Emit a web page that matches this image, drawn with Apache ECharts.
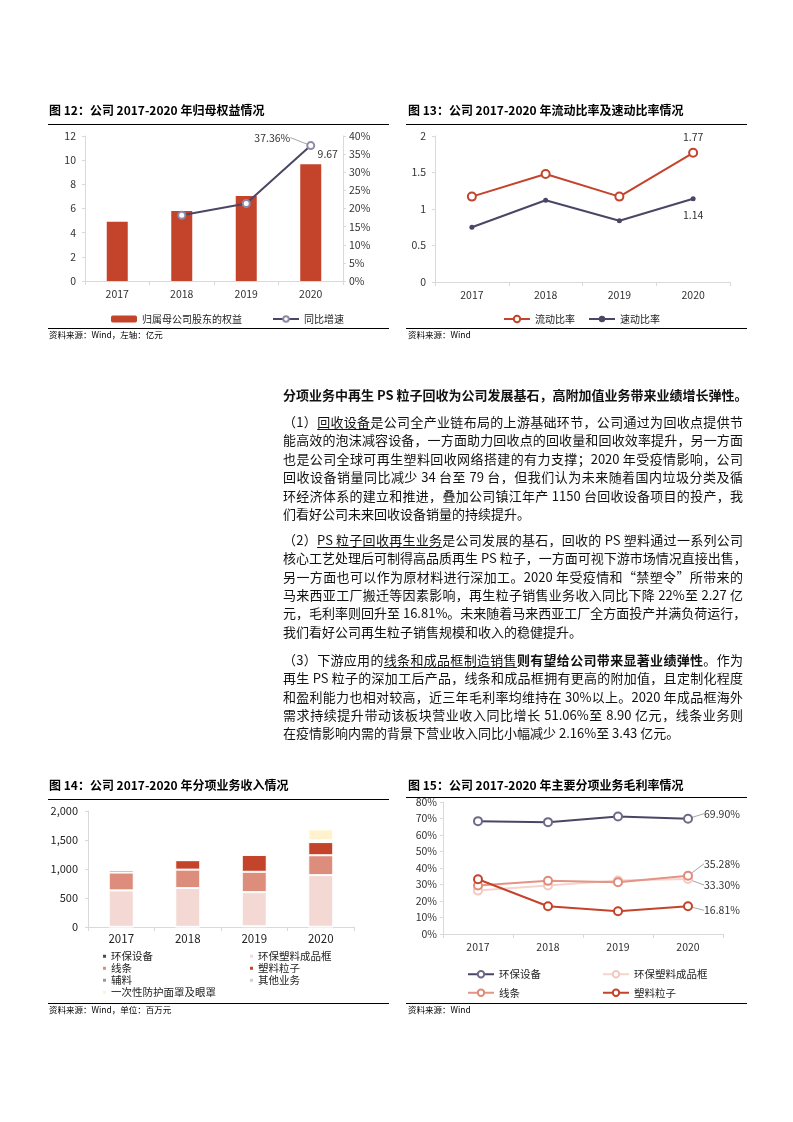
<!DOCTYPE html>
<html><head><meta charset="utf-8">
<script src="https://cdn.jsdelivr.net/npm/echarts@6/dist/echarts.min.js"></script>
<style>
html,body{margin:0;padding:0;background:#fff;}
#main{position:absolute;left:0;top:0;width:793px;height:1122px;}
.ln{position:absolute;left:283px;width:460px;height:18px;line-height:18px;font-size:13px;font-family:"Noto Sans CJK SC",sans-serif;color:#111;white-space:nowrap;text-align:justify;text-align-last:justify;}
.ln.last{text-align:left;text-align-last:left;}
.ln.h{font-weight:bold;}
u{text-decoration:underline;text-underline-offset:2px;text-decoration-thickness:1px;}
</style></head>
<body>
<div id="main"></div>
<div id="txt"></div>
<script>
// ---------- data ----------
const years = ['2017', '2018', '2019', '2020'];

// 图12 归母权益 (亿元) & 同比增速 (%)
const equity = [4.91, 5.80, 7.04, 9.67];
const equityGrowth = [null, 18.13, 21.38, 37.36];

// 图13 流动比率 / 速动比率
const currentRatio = [1.17, 1.48, 1.17, 1.77];
const quickRatio = [0.75, 1.12, 0.84, 1.14];

// 图14 分项业务收入 (百万元)
const revNames = ['环保设备', '环保塑料成品框', '线条', '塑料粒子', '辅料', '其他业务', '一次性防护面罩及眼罩'];
const revEquip = [3, 3, 12, 4];
const revFrame = [628, 668, 589, 890];
const revLine = [308, 318, 351, 343];
const revPellet = [38, 163, 291, 227];
const revAux = [5, 2, 3, 10];
const revOther = [10, 5, 5, 20];
const revMask = [null, null, null, 190];

// 图15 毛利率 (%)
const marginNames = ['环保设备', '环保塑料成品框', '线条', '塑料粒子'];
const marginEquip = [68.4, 67.8, 71.2, 69.90];
const marginFrame = [26.3, 29.4, 32.4, 33.30];
const marginLine = [29.4, 32.2, 31.4, 35.28];
const marginPellet = [33.2, 16.8, 13.8, 16.81];

// ---------- text ----------
const heading = '分项业务中再生 PS 粒子回收为公司发展基石，高附加值业务带来业绩增长弹性。';
const para1 = [
  '（1）<u>回收设备</u>是公司全产业链布局的上游基础环节，公司通过为回收点提供节',
  '能高效的泡沫减容设备，一方面助力回收点的回收量和回收效率提升，另一方面',
  '也是公司全球可再生塑料回收网络搭建的有力支撑；2020 年受疫情影响，公司',
  '回收设备销量同比减少 34 台至 79 台，但我们认为未来随着国内垃圾分类及循',
  '环经济体系的建立和推进，叠加公司镇江年产 1150 台回收设备项目的投产，我',
  '们看好公司未来回收设备销量的持续提升。'
];
const para2 = [
  '（2）<u>PS 粒子回收再生业务</u>是公司发展的基石，回收的 PS 塑料通过一系列公司',
  '核心工艺处理后可制得高品质再生 PS 粒子，一方面可视下游市场情况直接出售，',
  '另一方面也可以作为原材料进行深加工。2020 年受疫情和“禁塑令”所带来的',
  '马来西亚工厂搬迁等因素影响，再生粒子销售业务收入同比下降 22%至 2.27 亿',
  '元，毛利率则回升至 16.81%。未来随着马来西亚工厂全方面投产并满负荷运行，',
  '我们看好公司再生粒子销售规模和收入的稳健提升。'
];
const para3 = [
  '（3）下游应用的<u>线条和成品框制造销售</u><b>则有望给公司带来显著业绩弹性</b>。作为',
  '再生 PS 粒子的深加工后产品，线条和成品框拥有更高的附加值，且定制化程度',
  '和盈利能力也相对较高，近三年毛利率均维持在 30%以上。2020 年成品框海外',
  '需求持续提升带动该板块营业收入同比增长 51.06%至 8.90 亿元，线条业务则',
  '在疫情影响内需的背景下营业收入同比小幅减少 2.16%至 3.43 亿元。'
];

(function renderText() {
  const box = document.getElementById('txt');
  function add(html, cy, cls) {
    const d = document.createElement('div');
    d.className = 'ln ' + (cls || '');
    d.style.top = (cy - 9) + 'px';
    d.innerHTML = html;
    box.appendChild(d);
  }
  add(heading, 395, 'h');
  const p1y = [421.7, 440, 458.8, 477.3, 495.7, 514.3];
  const p2y = [540, 558.3, 576.7, 595, 613.3, 631.7];
  const p3y = [660, 678.3, 696.7, 715, 733.3];
  para1.forEach((t, i) => add(t, p1y[i], i === para1.length - 1 ? 'last' : ''));
  para2.forEach((t, i) => add(t, p2y[i], i === para2.length - 1 ? 'last' : ''));
  para3.forEach((t, i) => add(t, p3y[i], i === para3.length - 1 ? 'last' : ''));
})();

// ---------- chart ----------
const FONT = '"Noto Sans CJK SC", "Noto Sans", sans-serif';
const RED = '#c4432b', PURPLE = '#4b4566', SALMON = '#dd8d7b', PINK = '#f3d8d3';
const axisLineStyle = { lineStyle: { color: '#d9d9d9', width: 1 } };
const labelStyle = { color: '#333', fontSize: 10.5, fontFamily: FONT };

function lastLabel(arr, label) {
  return arr.map((v, i) => i === arr.length - 1 ? { value: v, label: label } : v);
}

const chart = echarts.init(document.getElementById('main'), null, { renderer: 'canvas' });

function titleText(x, y, text) {
  return { type: 'text', x: x, y: y, style: { text: text, font: 'bold 12px ' + FONT, fill: '#000', verticalAlign: 'middle' } };
}
function srcText(x, y, text) {
  return { type: 'text', x: x, y: y, style: { text: text, font: '8.5px ' + FONT, fill: '#000', verticalAlign: 'middle' } };
}
function hline(x1, x2, y) {
  return { type: 'line', shape: { x1: x1, y1: y, x2: x2, y2: y }, style: { stroke: '#000', lineWidth: 1 } };
}

const catAxis = (gi) => ({
  type: 'category', gridIndex: gi, data: years,
  axisLine: axisLineStyle, axisTick: { show: true, length: 4, lineStyle: { color: '#d9d9d9' } },
  axisLabel: Object.assign({}, labelStyle, { margin: 8 })
});

const option = {
  animation: false,
  textStyle: { fontFamily: FONT },
  grid: [
    { left: 85, top: 136, width: 258, height: 145 },
    { left: 435, top: 136, width: 295, height: 146 },
    { left: 88, top: 811, width: 266, height: 116 },
    { left: 443, top: 802, width: 280, height: 132 }
  ],
  xAxis: [catAxis(0), catAxis(1), Object.assign(catAxis(2), { axisLabel: Object.assign({}, labelStyle, { fontSize: 11.5, margin: 6, color: '#222' }) }), catAxis(3)],
  yAxis: [
    { type: 'value', gridIndex: 0, min: 0, max: 12, interval: 2, axisLine: Object.assign({ show: true }, axisLineStyle),
      axisTick: { show: true, length: 3, lineStyle: { color: '#d9d9d9' } }, splitLine: { show: false }, axisLabel: Object.assign({}, labelStyle, { margin: 9 }) },
    { type: 'value', gridIndex: 0, position: 'right', min: 0, max: 40, interval: 5, axisLine: Object.assign({ show: true }, axisLineStyle),
      axisTick: { show: true, length: 3, lineStyle: { color: '#d9d9d9' } }, splitLine: { show: false }, axisLabel: Object.assign({}, labelStyle, { margin: 6, formatter: '{value}%' }) },
    { type: 'value', gridIndex: 1, min: 0, max: 2, interval: 0.5, axisLine: Object.assign({ show: true }, axisLineStyle),
      axisTick: { show: true, length: 3, lineStyle: { color: '#d9d9d9' } }, splitLine: { show: false }, axisLabel: Object.assign({}, labelStyle, { margin: 9 }) },
    { type: 'value', gridIndex: 2, min: 0, max: 2000, interval: 500, axisLine: Object.assign({ show: true }, axisLineStyle),
      axisTick: { show: true, length: 3, lineStyle: { color: '#d9d9d9' } }, splitLine: { show: false },
      axisLabel: Object.assign({}, labelStyle, { fontSize: 11, margin: 10, color: '#222', formatter: v => v.toLocaleString('en-US') }) },
    { type: 'value', gridIndex: 3, min: 0, max: 80, interval: 10, axisLine: Object.assign({ show: true }, axisLineStyle),
      axisTick: { show: true, length: 3, lineStyle: { color: '#d9d9d9' } }, splitLine: { show: false }, axisLabel: Object.assign({}, labelStyle, { margin: 6, formatter: '{value}%' }) }
  ],
  legend: [
    { data: ['归属母公司股东的权益', '同比增速'], left: 106, top: 309, itemWidth: 26, itemHeight: 7, itemGap: 30,
      textStyle: { fontSize: 10, color: '#222', fontFamily: FONT } },
    { data: ['流动比率', '速动比率'], left: 498, top: 309, itemWidth: 26, itemHeight: 8, itemGap: 13,
      textStyle: { fontSize: 10, color: '#222', fontFamily: FONT } },
    { data: ['环保设备', '线条', '辅料', '一次性防护面罩及眼罩'].map(n => ({ name: n, icon: 'rect' })), left: 96, top: 946, orient: 'vertical',
      itemWidth: 5, itemHeight: 5, itemGap: 1.5, textStyle: { fontSize: 10.5, color: '#222', fontFamily: FONT, padding: [0, 0, 0, -1] } },
    { data: ['环保塑料成品框', '塑料粒子', '其他业务'].map(n => ({ name: n, icon: 'rect' })), left: 243, top: 946, orient: 'vertical',
      itemWidth: 5, itemHeight: 5, itemGap: 1.5, textStyle: { fontSize: 10.5, color: '#222', fontFamily: FONT, padding: [0, 0, 0, -1] } },
    { data: ['环保设备 ', '线条 '], left: 462, top: 964, orient: 'vertical', itemWidth: 26, itemHeight: 8, itemGap: 8,
      formatter: n => n.trim(), textStyle: { fontSize: 10.5, color: '#222', fontFamily: FONT } },
    { data: ['环保塑料成品框 ', '塑料粒子 '], left: 597, top: 964, orient: 'vertical', itemWidth: 26, itemHeight: 8, itemGap: 8,
      formatter: n => n.trim(), textStyle: { fontSize: 10.5, color: '#222', fontFamily: FONT } }
  ],
  graphic: [
    titleText(49, 110, '图 12：公司 2017-2020 年归母权益情况'),
    titleText(408, 110, '图 13：公司 2017-2020 年流动比率及速动比率情况'),
    titleText(49, 785, '图 14：公司 2017-2020 年分项业务收入情况'),
    titleText(408, 785, '图 15：公司 2017-2020 年主要分项业务毛利率情况'),
    hline(48, 389, 124.5), hline(406, 747, 124.5),
    hline(48, 389, 799.5), hline(406, 747, 797.5),
    hline(48, 389, 328.5), hline(406, 747, 328.5),
    hline(48, 389, 1003.5), hline(406, 747, 1003.5),
    srcText(49, 335, '资料来源：Wind，左轴：亿元'),
    srcText(408, 335, '资料来源：Wind'),
    srcText(49, 1010, '资料来源：Wind，单位：百万元'),
    srcText(408, 1010, '资料来源：Wind')
  ],
  series: [
    // 图12
    { name: '归属母公司股东的权益', type: 'bar', xAxisIndex: 0, yAxisIndex: 0, barWidth: 21, itemStyle: { color: RED },
      data: lastLabel(equity, { show: true, position: 'top', offset: [17, 0], fontSize: 10.5, color: '#333', fontFamily: FONT }) },
    { name: '同比增速', type: 'line', xAxisIndex: 0, yAxisIndex: 1, symbol: 'emptyCircle', symbolSize: 7, z: 5,
      lineStyle: { color: PURPLE, width: 2 }, itemStyle: { color: '#8f8aa6', borderWidth: 1.5 },
      data: lastLabel(equityGrowth, { show: true, position: 'left', distance: 4, fontSize: 10.5, color: '#333', fontFamily: FONT, formatter: p => p.value.toFixed(2) + '%' }),
      labelLayout: { dx: -12, dy: -8 },
      labelLine: { show: true, lineStyle: { color: '#a6a6a6', width: 1 } } },
    // 图13
    { name: '流动比率', type: 'line', xAxisIndex: 1, yAxisIndex: 2, symbol: 'emptyCircle', symbolSize: 8,
      lineStyle: { color: RED, width: 2 }, itemStyle: { color: RED, borderWidth: 1.5 },
      data: lastLabel(currentRatio, { show: true, position: 'top', distance: 6, fontSize: 10.5, color: '#333', fontFamily: FONT }) },
    { name: '速动比率', type: 'line', xAxisIndex: 1, yAxisIndex: 2, symbol: 'circle', symbolSize: 5,
      lineStyle: { color: PURPLE, width: 2 }, itemStyle: { color: PURPLE },
      data: lastLabel(quickRatio, { show: true, position: 'bottom', distance: 8, fontSize: 10.5, color: '#333', fontFamily: FONT }) },
    // 图14
    ...[revEquip, revFrame, revLine, revPellet, revAux, revOther, revMask].map((arr, i) => ({
      name: revNames[i], type: 'bar', stack: 'rev', xAxisIndex: 2, yAxisIndex: 3, barWidth: 25,
      itemStyle: { color: ['#4b4566', PINK, SALMON, RED, '#9a94b0', '#d0d0d0', '#fff2cc'][i], borderColor: '#fff', borderWidth: 1 },
      data: arr
    })),
    // 图15
    ...[marginEquip, marginFrame, marginLine, marginPellet].map((arr, i) => {
      const col = [PURPLE, '#f5d4cd', '#e39483', RED][i];
      const bcol = ['#6e6989', '#f1c9c1', '#e08b79', RED][i];
      const dy = [-5, 6, -12, 4][i];
      return {
        name: marginNames[i] + ' ', type: 'line', xAxisIndex: 3, yAxisIndex: 4, symbol: 'emptyCircle', symbolSize: 8,
        lineStyle: { color: col, width: 2 }, itemStyle: { color: bcol, borderWidth: 1.5 },
        data: lastLabel(arr, { show: true, position: 'right', distance: 5, fontSize: 10.5, color: '#333', fontFamily: FONT, formatter: p => p.value.toFixed(2) + '%' }),
        labelLayout: { dx: 6, dy: dy },
        labelLine: { show: true, lineStyle: { color: '#a6a6a6', width: 1 } }
      };
    })
  ]
};
chart.setOption(option);
</script>
</body></html>
